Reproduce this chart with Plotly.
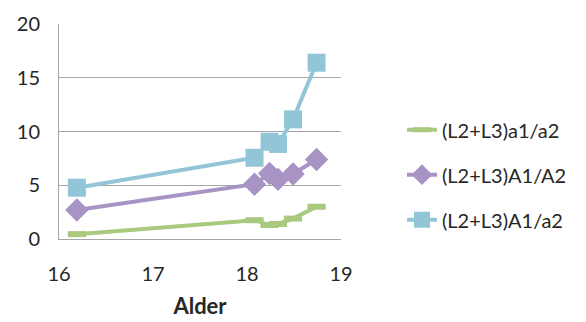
import plotly.graph_objects as go

# Age (Alder) and ratio values per series
alder = [16.19, 18.08, 18.24, 18.33, 18.49, 18.74]
ratio_a1_a2 = [0.45, 1.75, 1.3, 1.4, 1.9, 3.0]
ratio_A1_A2 = [2.7, 5.1, 6.1, 5.55, 6.05, 7.4]
ratio_A1_a2 = [4.77, 7.56, 9.05, 8.84, 11.13, 16.4]

series_names = ["(L2+L3)a1/a2", "(L2+L3)A1/A2", "(L2+L3)A1/a2"]
y_ticks = [0, 5, 10, 15, 20]
x_ticks = [16, 17, 18, 19]

green = "#A8C97E"
purple = "#A894C4"
blue = "#92C6D6"

font_family = "Lato, 'Open Sans', sans-serif"
text_color = "#262626"

fig = go.Figure()
fig.add_trace(go.Scatter(
    x=alder, y=ratio_a1_a2, name=series_names[0], mode="lines+markers",
    line=dict(color=green, width=4),
    marker=dict(symbol="line-ew", size=13, line=dict(color=green, width=6)),
    legendgroup="g1",
))
fig.add_trace(go.Scatter(
    x=alder, y=ratio_A1_A2, name=series_names[1], mode="lines+markers",
    line=dict(color=purple, width=4),
    marker=dict(symbol="diamond", size=18, color=purple),
    legendgroup="g2",
))
fig.add_trace(go.Scatter(
    x=alder, y=ratio_A1_a2, name=series_names[2], mode="lines+markers",
    line=dict(color=blue, width=4),
    marker=dict(symbol="square", size=18, color=blue),
    legendgroup="g3",
))

fig.update_layout(
    width=586, height=322,
    margin=dict(l=59, r=245, t=24, b=83),
    paper_bgcolor="white", plot_bgcolor="white",
    font=dict(family=font_family, color=text_color),
    showlegend=True,
    legend=dict(
        x=(402 - 59) / 282, y=0.299, xanchor="left", yanchor="middle",
        font=dict(size=20, family=font_family, color=text_color),
        tracegroupgap=16, itemwidth=30,
    ),
    xaxis=dict(
        range=[16, 19], tickvals=x_ticks, showgrid=False,
        showline=True, linecolor="#A6A6A6", linewidth=1,
        ticks="", tickfont=dict(size=20), ticklabelstandoff=17,
        title=dict(text="<b>Alder</b>", font=dict(size=22), standoff=14),
        zeroline=False, automargin=False,
    ),
    yaxis=dict(
        range=[0, 20], tickvals=y_ticks, showgrid=True,
        gridcolor="#A6A6A6", gridwidth=1,
        showline=True, linecolor="#A6A6A6", linewidth=1,
        ticks="", tickfont=dict(size=20), ticklabelstandoff=14,
        zeroline=False, automargin=False,
    ),
)

fig.write_html("out.html")
